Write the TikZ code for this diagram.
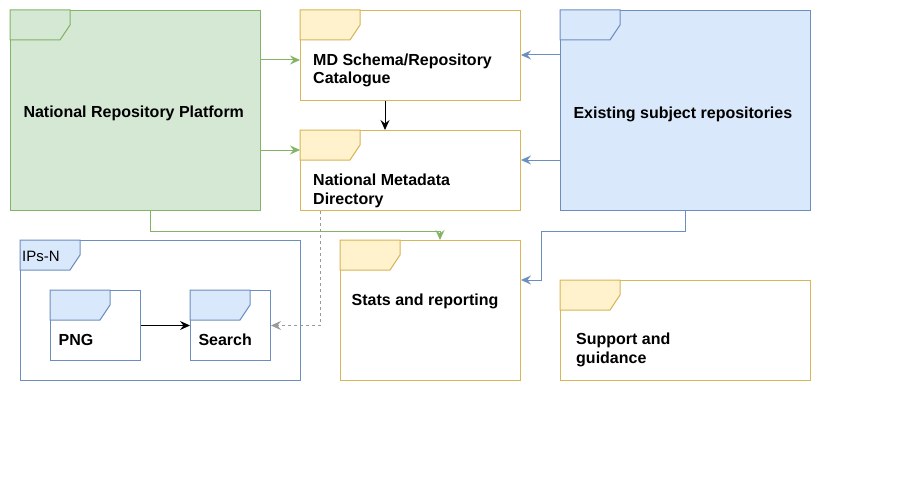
\documentclass[tikz,border=0pt]{standalone}
\usepackage{fontspec}
\setmainfont{Liberation Sans}
\usetikzlibrary{arrows.meta,calc}
\definecolor{gfill}{HTML}{D5E8D4}
\definecolor{gline}{HTML}{82B366}
\definecolor{yfill}{HTML}{FFF2CC}
\definecolor{yline}{HTML}{D6B656}
\definecolor{bfill}{HTML}{DAE8FC}
\definecolor{bline}{HTML}{6C8EBF}
\definecolor{dgrey}{HTML}{999999}
\tikzset{
  box/.style={rectangle, inner sep=0pt, anchor=north west, line width=1pt},
  gbox/.style={box, draw=gline, fill=gfill},
  ybox/.style={box, draw=yline, fill=white},
  bbox/.style={box, draw=bline, fill=bfill},
  wbbox/.style={box, draw=bline, fill=white},
  lbl/.style={anchor=base west, inner sep=0pt, align=left, font=\fontsize{16}{18.4}\selectfont\bfseries},
  tip/.style={-{Stealth[length=10pt,width=9pt,inset=3.5pt]}},
  conn/.style={line width=1pt, tip},
}
\newcommand{\foldertab}[3]{% node, fill, draw
  \filldraw[fill=#2, draw=#3, line width=1pt] (#1.north west) -- ++(60,0) -- ++(0,15) -- ++(-10,15) -- ++(-50,0) -- cycle;}
\begin{document}
\begin{tikzpicture}[x=1pt,y=-1pt]
\useasboundingbox (0,0) rectangle (901,492);
% boxes
\node[gbox, minimum width=250pt, minimum height=200pt] (nrp) at (10,10) {};
\foldertab{nrp}{gfill}{gline}
\node[ybox, minimum width=220pt, minimum height=90pt] (md) at (300,10) {};
\foldertab{md}{yfill}{yline}
\node[ybox, minimum width=220pt, minimum height=80pt] (nmd) at (300,130) {};
\foldertab{nmd}{yfill}{yline}
\node[bbox, minimum width=250pt, minimum height=200pt] (esr) at (560,10) {};
\foldertab{esr}{bfill}{bline}
\node[wbbox, minimum width=280pt, minimum height=140pt] (ips) at (20,240) {};
\foldertab{ips}{bfill}{bline}
\node[wbbox, minimum width=90pt, minimum height=70pt] (png) at (50,290) {};
\foldertab{png}{bfill}{bline}
\node[wbbox, minimum width=80pt, minimum height=70pt] (search) at (190,290) {};
\foldertab{search}{bfill}{bline}
\node[ybox, minimum width=180pt, minimum height=140pt] (stats) at (340,240) {};
\foldertab{stats}{yfill}{yline}
\node[ybox, minimum width=250pt, minimum height=100pt] (sup) at (560,280) {};
\foldertab{sup}{yfill}{yline}
% labels (multi-line: base = last line)
\node[lbl] (nrp-t) at (23.3,117.3) {National Repository Platform};
\node[lbl] (md-t) at (313,84) {MD Schema/Repository\\Catalogue};
\node[lbl] (nmd-t) at (313,204) {National Metadata\\Directory};
\node[lbl] (esr-t) at (573.3,118.3) {Existing subject repositories};
\node[lbl] (stats-t) at (351.5,305) {Stats and reporting};
\node[lbl] (png-t) at (58.5,345.7) {PNG};
\node[lbl] (search-t) at (198.3,345.7) {Search};
\node[lbl] (sup-t) at (576,363.3) {Support and\\guidance};
\node[lbl, font=\fontsize{15}{18}\selectfont] (ips-t) at (22,261.3) {IPs-N};
% connectors
\draw[conn, gline] ($(nrp.north east)+(0,50)$) -- ($(md.north west)+(0,50)$);
\draw[conn, gline] ($(nrp.north east)+(0,140)$) -- ($(nmd.north west)+(0,20)$);
\draw[conn, black] ($(md.south west)+(85,0)$) -- ($(nmd.north west)+(85,0)$);
\draw[conn, bline] ($(esr.north west)+(0,45)$) -- ($(md.north east)+(0,45)$);
\draw[conn, bline] ($(esr.north west)+(0,150)$) -- ($(nmd.north east)+(0,30)$);
\draw[conn, gline] ($(nrp.south west)+(140,0)$) -- ++(0,20) -| ($(stats.north west)+(100,0)$);
\draw[conn, bline] (esr.south) -- ++(0,20) -| ($(stats.north east)+(20,40)$) -- ($(stats.north east)+(0,40)$);
\draw[conn, dgrey, dash pattern=on 3pt off 3pt] ($(nmd.south west)+(20,0)$) |- (search.east);
\draw[conn, black] (png.east) -- (search.west);
\end{tikzpicture}
\end{document}
